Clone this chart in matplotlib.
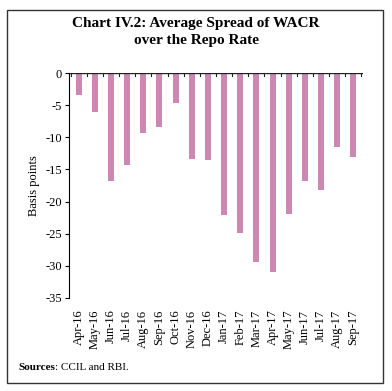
import matplotlib
matplotlib.use("Agg")
import matplotlib.pyplot as plt
from matplotlib.patches import Rectangle
import numpy as np

months = ["Apr-16", "May-16", "Jun-16", "Jul-16", "Aug-16", "Sep-16", "Oct-16", "Nov-16",
          "Dec-16", "Jan-17", "Feb-17", "Mar-17", "Apr-17", "May-17", "Jun-17", "Jul-17",
          "Aug-17", "Sep-17"]
spread = [-3.4, -6.1, -16.8, -14.3, -9.3, -8.4, -4.7, -13.3, -13.5, -22.1, -24.9, -29.4,
          -30.9, -21.9, -16.8, -18.2, -11.5, -13.1]
yticks = [0, -5, -10, -15, -20, -25, -30, -35]

plt.rcParams['font.family'] = ['Liberation Serif', 'DejaVu Serif']

fig = plt.figure(figsize=(3.92, 3.91), dpi=100)
fig.patches.append(Rectangle((7/392, 1-383/391), 376/392, 373/391, transform=fig.transFigure,
                             fill=False, edgecolor='#333333', linewidth=1.0))

ax = fig.add_axes([69/392, 1-298/391, (363-69)/392, (298-73)/391])
x = np.arange(len(months))
ax.bar(x, spread, width=0.37, color='#CC88B2')
ax.set_ylim(-35, 0)
ax.set_xlim(-0.6, len(months) - 0.4)
ax.set_yticks(yticks)
ax.set_yticklabels([str(v) for v in yticks], fontsize=9)
ax.tick_params(axis='y', length=3, width=0.8, pad=2)
ax.spines['top'].set_visible(False)
ax.spines['right'].set_visible(False)
ax.spines['bottom'].set_visible(False)
ax.axhline(0, color='#222222', linewidth=1.0)
ax.set_xticks([])
for i in range(len(months) + 1):
    ax.plot([i - 0.5, i - 0.5], [0, -0.5], color='#222222', linewidth=0.8, clip_on=False)
for i, m in enumerate(months):
    ax.text(i, -36.8, m, rotation=90, ha='center', va='top', fontsize=9)
ax.set_ylabel("Basis points", fontsize=9, labelpad=4)

fig.text(0.5, 1-32/391, "Chart IV.2: Average Spread of WACR\nover the Repo Rate", ha='center',
         va='center', fontsize=11, fontweight='bold', linespacing=1.35)

t1 = fig.text(18/392, 1-368/391, "Sources", ha='left', va='center', fontsize=8, fontweight='bold')
fig.canvas.draw()
bb = t1.get_window_extent()
fig.text(bb.x1 / fig.bbox.width, 1-368/391, ": CCIL and RBI.", ha='left', va='center', fontsize=8)

fig.savefig("out.png", dpi=100)
